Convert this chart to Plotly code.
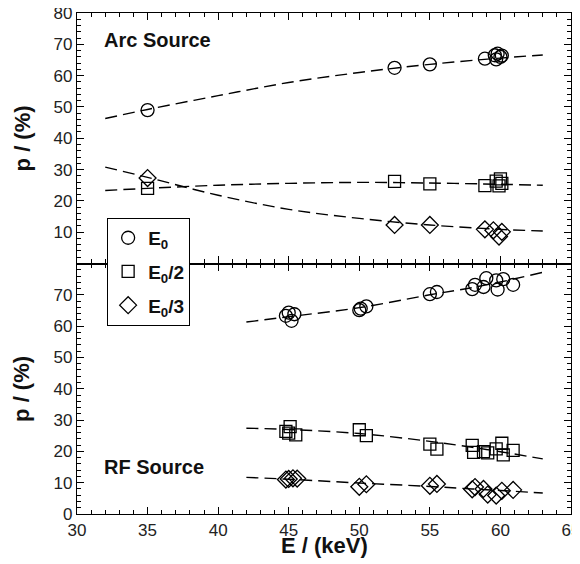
import plotly.graph_objects as go
from plotly.subplots import make_subplots

# ---------------- data ----------------
# Arc Source (top panel)
arc_e0_x = [35.0, 52.5, 55.0, 58.9, 59.6, 59.8, 60.0, 59.7, 60.1]
arc_e0_y = [49.0, 62.5, 63.6, 65.4, 66.5, 67.0, 66.0, 65.2, 66.4]
arc_e2_x = [35.0, 52.5, 55.0, 58.9, 59.7, 59.9, 60.0, 60.1]
arc_e2_y = [24.0, 26.2, 25.4, 24.9, 26.3, 24.8, 27.0, 25.6]
arc_e3_x = [35.0, 52.5, 55.0, 58.9, 59.5, 59.9, 60.1]
arc_e3_y = [27.3, 12.3, 12.3, 10.9, 10.6, 8.6, 10.1]

fit_x = [32, 35, 40, 45, 50, 55, 60, 63]
arc_fit_e0 = [46.3, 49.2, 53.6, 57.8, 61.0, 63.6, 65.6, 66.6]
arc_fit_e2 = [23.3, 24.0, 25.0, 25.6, 25.9, 25.7, 25.3, 25.0]
arc_fit_e3 = [30.8, 27.5, 21.8, 17.3, 14.4, 12.3, 10.9, 10.4]

# RF Source (bottom panel)
rf_e0_x = [44.8, 45.0, 45.2, 45.4, 50.0, 50.1, 50.5, 55.0, 55.5,
           58.0, 58.2, 58.8, 59.0, 59.7, 59.8, 60.2, 60.9]
rf_e0_y = [63.3, 64.3, 61.7, 63.8, 65.1, 65.6, 66.3, 70.2, 70.9,
           71.8, 73.2, 72.5, 75.3, 74.6, 71.7, 75.0, 73.2]
rf_e2_x = [44.8, 45.1, 45.0, 45.5, 50.0, 50.5, 55.0, 55.5,
           58.0, 58.1, 58.8, 59.1, 59.7, 60.1, 60.2, 60.9]
rf_e2_y = [26.4, 27.9, 25.8, 25.3, 26.9, 25.0, 22.3, 20.7,
           21.9, 19.7, 19.9, 19.5, 20.8, 22.6, 18.9, 20.3]
rf_e3_x = [44.8, 45.0, 45.3, 45.6, 50.0, 50.5, 55.0, 55.5,
           58.0, 58.2, 58.8, 59.1, 59.7, 60.1, 60.9]
rf_e3_y = [11.0, 11.2, 11.4, 11.3, 8.7, 9.5, 9.0, 9.6,
           7.9, 8.6, 8.0, 6.2, 5.9, 7.4, 7.7]

rf_fit_x = [42, 45, 50, 55, 58, 60, 63]
rf_fit_e0 = [61.3, 63.0, 65.9, 70.0, 72.3, 74.1, 77.2]
rf_fit_e2 = [27.4, 27.0, 25.7, 23.2, 21.3, 19.9, 17.6]
rf_fit_e3 = [11.7, 11.1, 9.9, 8.8, 8.0, 7.5, 6.7]

legend_names = ["<b>E<sub>0</sub></b>", "<b>E<sub>0</sub>/2</b>", "<b>E<sub>0</sub>/3</b>"]
symbols = ["circle-open", "square-open", "diamond-open"]
sizes = [13, 12, 13]

x_ticks = [30, 35, 40, 45, 50, 55, 60, 65]
top_yticks = [10, 20, 30, 40, 50, 60, 70, 80]
bot_yticks = [0, 10, 20, 30, 40, 50, 60, 70]

# ---------------- figure ----------------
fig = make_subplots(rows=2, cols=1, shared_xaxes=True, vertical_spacing=0)

dash = dict(color="black", width=1.4, dash="12px,6px", shape="spline")

for fy in [arc_fit_e0, arc_fit_e2, arc_fit_e3]:
    fig.add_trace(go.Scatter(x=fit_x, y=fy, mode="lines", line=dash,
                             showlegend=False, hoverinfo="skip"), row=1, col=1)
for fy in [rf_fit_e0, rf_fit_e2, rf_fit_e3]:
    fig.add_trace(go.Scatter(x=rf_fit_x, y=fy, mode="lines", line=dash,
                             showlegend=False, hoverinfo="skip"), row=2, col=1)

arc_sets = [(arc_e0_x, arc_e0_y), (arc_e2_x, arc_e2_y), (arc_e3_x, arc_e3_y)]
rf_sets = [(rf_e0_x, rf_e0_y), (rf_e2_x, rf_e2_y), (rf_e3_x, rf_e3_y)]
for i, (xs, ys) in enumerate(arc_sets):
    fig.add_trace(go.Scatter(x=xs, y=ys, mode="markers", name=legend_names[i],
                             legendgroup=f"g{i}",
                             marker=dict(symbol=symbols[i], size=sizes[i], color="black",
                                         line=dict(width=1.3, color="black")),
                             showlegend=True), row=1, col=1)
for i, (xs, ys) in enumerate(rf_sets):
    fig.add_trace(go.Scatter(x=xs, y=ys, mode="markers", name=legend_names[i],
                             legendgroup=f"g{i}",
                             marker=dict(symbol=symbols[i], size=sizes[i], color="black",
                                         line=dict(width=1.3, color="black")),
                             showlegend=False), row=2, col=1)

font_family = "Liberation Sans, Arial, sans-serif"
axis_common = dict(showline=True, linecolor="black", linewidth=1.3, mirror="ticks",
                   ticks="inside", tickcolor="black", tickwidth=1.2,
                   showgrid=False, zeroline=False, automargin=False,
                   ticklabeloverflow="allow",
                   tickfont=dict(family=font_family, size=17, color="#222"))

fig.update_xaxes(range=[30, 65], tickvals=x_ticks, ticklen=7,
                 minor=dict(dtick=1, ticks="inside", ticklen=4, tickcolor="black", tickwidth=1),
                 **axis_common)
fig.update_xaxes(showticklabels=False, row=1, col=1)

fig.update_yaxes(range=[0, 80], ticklen=7,
                 minor=dict(dtick=2, ticks="inside", ticklen=4, tickcolor="black", tickwidth=1),
                 **axis_common)
fig.update_yaxes(tickvals=top_yticks, row=1, col=1)
fig.update_yaxes(tickvals=bot_yticks, row=2, col=1)

title_font = dict(family=font_family, size=22, color="#111")
# axis titles
fig.add_annotation(text="<b>E / (keV)</b>", xref="paper", yref="paper", x=0.5, y=-0.063,
                   xanchor="center", yanchor="middle", showarrow=False, font=title_font)
for yc in [0.75, 0.25]:
    fig.add_annotation(text="<b>p / (%)</b>", xref="paper", yref="paper", x=-0.111, y=yc,
                       xanchor="center", yanchor="middle", textangle=-90, showarrow=False,
                       font=title_font)

fig.add_annotation(text="<b>Arc Source</b>", xref="x", yref="y", x=31.8, y=71.3,
                   xanchor="left", yanchor="middle", showarrow=False,
                   font=dict(family=font_family, size=20, color="#111"))
fig.add_annotation(text="<b>RF Source</b>", xref="x2", yref="y2", x=31.8, y=15.0,
                   xanchor="left", yanchor="middle", showarrow=False,
                   font=dict(family=font_family, size=20, color="#111"))

# the page body adds an 8px offset; size the figure so the plot area lands where the reference has it
fig.update_layout(
    width=572, height=556,
    margin=dict(l=69, r=9, t=5, b=50, autoexpand=False),
    paper_bgcolor="white", plot_bgcolor="white",
    legend=dict(x=0.061, y=0.591, xanchor="left", yanchor="top",
                bgcolor="white", bordercolor="black", borderwidth=1,
                font=dict(family=font_family, size=19, color="#111"),
                itemwidth=30, tracegroupgap=6, traceorder="grouped"),
    showlegend=True,
)

fig.write_html("out.html")
